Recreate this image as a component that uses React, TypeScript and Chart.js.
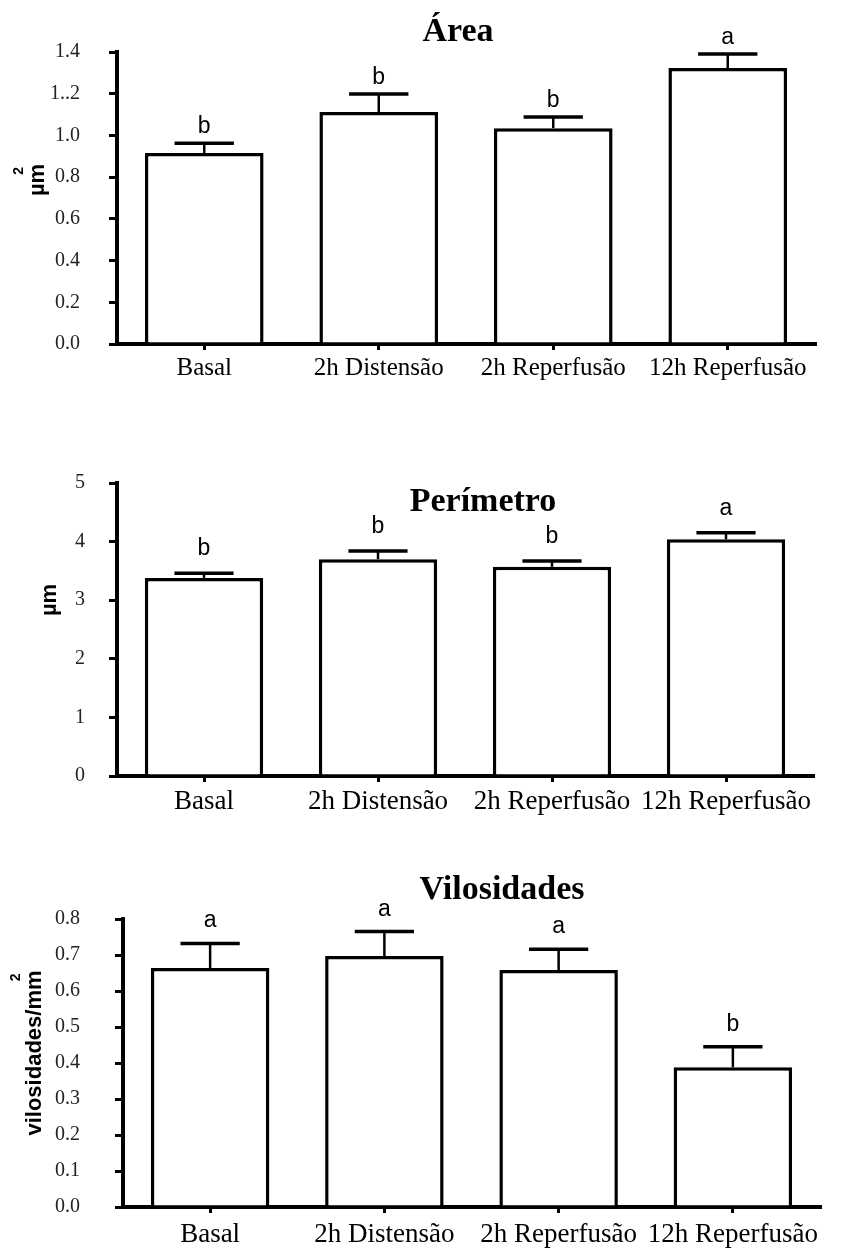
import React, { useEffect, useRef } from "react";
import { Chart, registerables } from "chart.js";

Chart.register(...registerables);

// ---------- DATA ----------
const categories = ["Basal", "2h Distensão", "2h Reperfusão", "12h Reperfusão"];

const areaValues = [0.916, 1.112, 1.035, 1.323];
const areaErrors = [0.047, 0.087, 0.053, 0.067];
const areaLetters = ["b", "b", "b", "a"];
const areaTickValues = [0, 0.2, 0.4, 0.6, 0.8, 1.0, 1.2, 1.4];
const areaTickLabels = ["0.0", "0.2", "0.4", "0.6", "0.8", "1.0", "1..2", "1.4"];

const perimValues = [3.38, 3.7, 3.57, 4.04];
const perimErrors = [0.08, 0.14, 0.1, 0.11];
const perimLetters = ["b", "b", "b", "a"];
const perimTickValues = [0, 1, 2, 3, 4, 5];
const perimTickLabels = ["0", "1", "2", "3", "4", "5"];

const viloValues = [0.664, 0.697, 0.658, 0.388];
const viloErrors = [0.068, 0.068, 0.058, 0.057];
const viloLetters = ["a", "a", "a", "b"];
const viloTickValues = [0, 0.1, 0.2, 0.3, 0.4, 0.5, 0.6, 0.7, 0.8];
const viloTickLabels = ["0.0", "0.1", "0.2", "0.3", "0.4", "0.5", "0.6", "0.7", "0.8"];

// ---------- LAYOUT ----------
const SERIF = '"Liberation Serif", "Times New Roman", serif';
const SANS = '"Liberation Sans", Arial, sans-serif';

type PanelCfg = {
  title: string;
  yLabel: string;
  ySup: string;
  values: number[];
  errors: number[];
  letters: string[];
  tickValues: number[];
  tickLabels: string[];
  top: number;
  height: number;
  plotLeft: number;
  plotRight: number;
  plotTop: number;
  plotBottom: number;
  titleX: number;
  titleY: number;
  yLabelX: number;
  yLabelY: number;
  letterGap: number;
  tickPad: number;
  xFont: number;
  xPad: number;
};

const panels: PanelCfg[] = [
  {
    title: "Área",
    yLabel: "µm",
    ySup: "2",
    values: areaValues,
    errors: areaErrors,
    letters: areaLetters,
    tickValues: areaTickValues,
    tickLabels: areaTickLabels,
    top: 0,
    height: 405,
    plotLeft: 117,
    plotRight: 815,
    plotTop: 52,
    plotBottom: 344,
    titleX: 458,
    titleY: 32,
    yLabelX: 38,
    yLabelY: 180,
    letterGap: 10,
    tickPad: 29,
    xFont: 25,
    xPad: 3,
  },
  {
    title: "Perímetro",
    yLabel: "µm",
    ySup: "",
    values: perimValues,
    errors: perimErrors,
    letters: perimLetters,
    tickValues: perimTickValues,
    tickLabels: perimTickLabels,
    top: 405,
    height: 420,
    plotLeft: 117,
    plotRight: 813,
    plotTop: 78,
    plotBottom: 371,
    titleX: 483,
    titleY: 97,
    yLabelX: 50,
    yLabelY: 195,
    letterGap: 18,
    tickPad: 24,
    xFont: 27,
    xPad: 4,
  },
  {
    title: "Vilosidades",
    yLabel: "vilosidades/mm",
    ySup: "2",
    values: viloValues,
    errors: viloErrors,
    letters: viloLetters,
    tickValues: viloTickValues,
    tickLabels: viloTickLabels,
    top: 825,
    height: 429,
    plotLeft: 123,
    plotRight: 820,
    plotTop: 94,
    plotBottom: 387,
    titleX: 502,
    titleY: 65,
    yLabelX: 35,
    yLabelY: 228,
    letterGap: 16,
    tickPad: 35,
    xFont: 27,
    xPad: 6,
  },
];

function BarPanel({ cfg }: { cfg: PanelCfg }) {
  const ref = useRef<HTMLCanvasElement>(null);

  useEffect(() => {
    if (!ref.current) return;

    const decorations = {
      id: "decorations",
      afterDatasetsDraw(chart: any) {
        const ctx = chart.ctx;
        const yScale = chart.scales.y;
        const meta = chart.getDatasetMeta(0);
        ctx.save();
        ctx.strokeStyle = "#000";
        ctx.fillStyle = "#000";
        meta.data.forEach((bar: any, i: number) => {
          const v = cfg.values[i];
          const e = cfg.errors[i];
          const yBase = yScale.getPixelForValue(v);
          const yTop = yScale.getPixelForValue(v + e);
          const half = bar.width * 0.25;
          ctx.lineWidth = 2.5;
          ctx.beginPath();
          ctx.moveTo(bar.x, yBase);
          ctx.lineTo(bar.x, yTop);
          ctx.stroke();
          ctx.lineWidth = 3.5;
          ctx.beginPath();
          ctx.moveTo(bar.x - half, yTop);
          ctx.lineTo(bar.x + half, yTop);
          ctx.stroke();
          ctx.font = `23px ${SANS}`;
          ctx.textAlign = "center";
          ctx.textBaseline = "alphabetic";
          ctx.fillText(cfg.letters[i], bar.x, yTop - cfg.letterGap);
        });
        // title
        ctx.font = `bold 34px ${SERIF}`;
        ctx.textAlign = "center";
        ctx.textBaseline = "middle";
        ctx.fillText(cfg.title, cfg.titleX, cfg.titleY);
        // y label
        ctx.translate(cfg.yLabelX, cfg.yLabelY);
        ctx.rotate(-Math.PI / 2);
        ctx.font = `bold 22px ${SANS}`;
        ctx.fillText(cfg.yLabel, 0, 0);
        if (cfg.ySup) {
          const w = ctx.measureText(cfg.yLabel).width;
          ctx.font = `bold 14px ${SANS}`;
          ctx.fillText(cfg.ySup, w / 2 - 7, -19);
        }
        ctx.restore();
      },
    };

    const chart = new Chart(ref.current, {
      type: "bar",
      data: {
        labels: categories,
        datasets: [
          {
            data: cfg.values,
            backgroundColor: "#fff",
            borderColor: "#000",
            borderWidth: 3.5,
            barPercentage: 0.68,
            categoryPercentage: 1,
          },
        ],
      },
      options: {
        responsive: false,
        animation: false,
        devicePixelRatio: 1,
        layout: {
          padding: {
            left: 0,
            right: 841 - cfg.plotRight,
            top: cfg.plotTop,
            bottom: 0,
          },
        },
        plugins: {
          legend: { display: false },
          tooltip: { enabled: false },
          title: { display: false },
        },
        scales: {
          x: {
            offset: true,
            grid: {
              display: true,
              offset: false,
              drawOnChartArea: false,
              drawTicks: true,
              tickLength: 6,
              tickWidth: 3,
              tickColor: "#000",
              lineWidth: 3,
              color: "#000",
            },
            border: { display: true, color: "#000", width: 4 },
            ticks: {
              color: "#000",
              padding: cfg.xPad,
              maxRotation: 0,
              autoSkip: false,
              font: { family: SERIF, size: cfg.xFont },
            },
            afterFit(scale: any) {
              scale.height = cfg.height - cfg.plotBottom;
            },
          },
          y: {
            min: cfg.tickValues[0],
            max: cfg.tickValues[cfg.tickValues.length - 1],
            afterBuildTicks(scale: any) {
              scale.ticks = cfg.tickValues.map((v) => ({ value: v }));
            },
            grid: {
              display: true,
              drawOnChartArea: false,
              drawTicks: true,
              tickLength: 8,
              tickWidth: 3,
              tickColor: "#000",
              lineWidth: 3,
              color: "#000",
            },
            border: { display: true, color: "#000", width: 4 },
            ticks: {
              color: "#222",
              padding: cfg.tickPad,
              font: { family: SERIF, size: 20 },
              callback: (_v: any, index: number) => cfg.tickLabels[index],
            },
            afterFit(scale: any) {
              scale.width = cfg.plotLeft;
            },
          },
        },
      },
      plugins: [decorations],
    } as any);

    return () => chart.destroy();
  }, [cfg]);

  return (
    <canvas
      ref={ref}
      width={841}
      height={cfg.height}
      style={{ position: "absolute", left: 0, top: cfg.top, width: 841, height: cfg.height }}
    />
  );
}

export default function App() {
  return (
    <div
      style={{
        position: "absolute",
        left: 0,
        top: 0,
        width: 841,
        height: 1254,
        background: "#fff",
      }}
    >
      {panels.map((p) => (
        <BarPanel key={p.title} cfg={p} />
      ))}
    </div>
  );
}
